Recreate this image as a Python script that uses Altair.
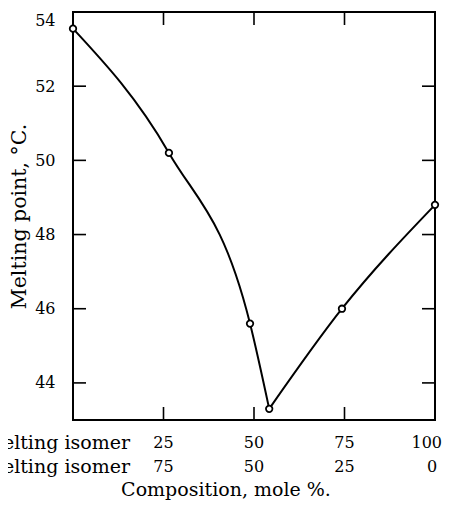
import altair as alt
import pandas as pd

# ---- data ----
composition = [0, 26.5, 48.9, 54.2, 74.3, 100]
melting_point = [53.55, 50.2, 45.6, 43.3, 46.0, 48.8]
left_branch_idx = [0, 1, 2, 3]
right_branch_idx = [3, 4, 5]

y_label_values = [44, 46, 48, 50, 52, 54]
y_tick_values = [44, 46, 48, 50, 52]
x_tick_values = [25, 50, 75]
label_positions = [25, 50, 75]
upper_labels = ["25", "50", "75"]
lower_labels = ["75", "50", "25"]
end_position = [100]
end_upper = ["100"]
end_lower = ["0"]
row_names = ["Higher-melting isomer", "Lower-melting isomer"]
x_title = "Composition, mole %."
y_title = "Melting point, °C."

FONT = "DejaVu Serif"
W, H = 362, 408
ROW1, ROW2 = 431, 455

points = pd.DataFrame({"x": composition, "y": melting_point})
line_rows = []
for name, idx in (("left", left_branch_idx), ("right", right_branch_idx)):
    for order, i in enumerate(idx):
        line_rows.append({"x": composition[i], "y": melting_point[i], "branch": name, "o": order})
lines = pd.DataFrame(line_rows)

xs = alt.Scale(domain=[0, 100], nice=False, zero=False)
ys = alt.Scale(domain=[43, 54], nice=False, zero=False)

line = alt.Chart(lines).mark_line(color="black", strokeWidth=2, interpolate="monotone").encode(
    x=alt.X("x:Q", scale=xs, axis=None),
    y=alt.Y("y:Q", scale=ys, axis=alt.Axis(
        values=y_label_values, ticks=False, domain=False, grid=False, labelFlush=True,
        labelPadding=18, labelFont=FONT, labelFontSize=16, labelColor="black",
        title=y_title, titleFont=FONT, titleFontSize=20.5, titleFontWeight="normal",
        titleColor="black", titlePadding=5)),
    detail="branch:N",
    order="o:Q",
)

pts = alt.Chart(points).mark_point(shape="circle", filled=True, fill="white", stroke="black",
                                   strokeWidth=1.8, size=42, opacity=1).encode(
    x=alt.X("x:Q", scale=xs), y=alt.Y("y:Q", scale=ys))

yt = pd.DataFrame({"v": y_tick_values})
xt = pd.DataFrame({"v": x_tick_values})
TL = 13
left_ticks = alt.Chart(yt).mark_rule(color="black", strokeWidth=1.6).encode(
    y=alt.Y("v:Q", scale=ys), x=alt.value(0), x2=alt.value(TL))
right_ticks = alt.Chart(yt).mark_rule(color="black", strokeWidth=1.6).encode(
    y=alt.Y("v:Q", scale=ys), x=alt.value(W - TL), x2=alt.value(W))
bottom_ticks = alt.Chart(xt).mark_rule(color="black", strokeWidth=1.6).encode(
    x=alt.X("v:Q", scale=xs), y=alt.value(H - TL), y2=alt.value(H))
top_ticks = alt.Chart(xt).mark_rule(color="black", strokeWidth=1.6).encode(
    x=alt.X("v:Q", scale=xs), y=alt.value(0), y2=alt.value(TL))

lab = pd.DataFrame({"p": label_positions, "up": upper_labels, "lo": lower_labels})
upper = alt.Chart(lab).mark_text(font=FONT, fontSize=16, color="black", baseline="middle").encode(
    x=alt.X("p:Q", scale=xs), y=alt.value(ROW1), text="up:N")
lower = alt.Chart(lab).mark_text(font=FONT, fontSize=16, color="black", baseline="middle").encode(
    x=alt.X("p:Q", scale=xs), y=alt.value(ROW2), text="lo:N")

end = pd.DataFrame({"p": end_position, "up": end_upper, "lo": end_lower})
end_up = alt.Chart(end).mark_text(font=FONT, fontSize=16, color="black", baseline="middle",
                                  align="right", dx=7).encode(
    x=alt.X("p:Q", scale=xs), y=alt.value(ROW1), text="up:N")
end_lo = alt.Chart(end).mark_text(font=FONT, fontSize=16, color="black", baseline="middle",
                                  dx=-3).encode(
    x=alt.X("p:Q", scale=xs), y=alt.value(ROW2), text="lo:N")

name1 = alt.Chart(pd.DataFrame({"t": [row_names[0]]})).mark_text(
    font=FONT, fontSize=19, color="black", align="right", baseline="middle").encode(
    x=alt.value(57), y=alt.value(ROW1), text="t:N")
name2 = alt.Chart(pd.DataFrame({"t": [row_names[1]]})).mark_text(
    font=FONT, fontSize=19, color="black", align="right", baseline="middle").encode(
    x=alt.value(57), y=alt.value(ROW2), text="t:N")

xtitle = alt.Chart(pd.DataFrame({"t": [x_title]})).mark_text(
    font=FONT, fontSize=19, color="black", align="center", baseline="alphabetic").encode(
    x=alt.value(153), y=alt.value(484), text="t:N")

chart = alt.layer(line, pts, left_ticks, right_ticks, bottom_ticks, top_ticks,
                  upper, lower, end_up, end_lo, name1, name2, xtitle).properties(
    width=W, height=H,
    background="white",
    autosize=alt.AutoSizeParams(type="none"),
    padding={"left": 65, "top": 4, "right": 7, "bottom": 80},
).configure_view(stroke="black", strokeWidth=2)

chart.save("out.html", embed_options={"renderer": "svg", "actions": False})
